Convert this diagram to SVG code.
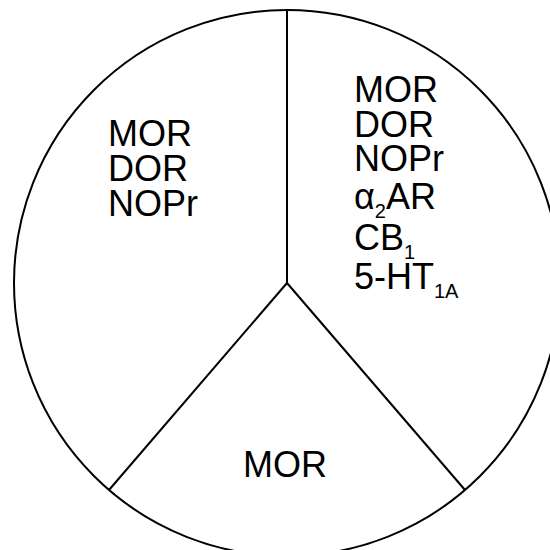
<svg xmlns="http://www.w3.org/2000/svg" width="550" height="550" viewBox="0 0 550 550">
<style>
.t{font-family:"Liberation Sans",Arial,sans-serif;font-size:36px;fill:#000}
.s{font-size:20px}
.ln{stroke:#000;stroke-width:2;fill:none}
</style>
<rect width="550" height="550" fill="#fff"/>
<g id="circle"><circle class="ln" cx="287" cy="283" r="273"/></g>
<g id="connectors">
<line class="ln" x1="287" y1="10" x2="287" y2="283"/>
<line class="ln" x1="287" y1="283" x2="109" y2="490"/>
<line class="ln" x1="287" y1="283" x2="465" y2="490"/>
</g>
<g id="left">
<text class="t" x="108" y="146">MOR</text>
<text class="t" x="108" y="181">DOR</text>
<text class="t" x="108" y="216">NOPr</text>
</g>
<g id="right">
<text class="t" x="354" y="102">MOR</text>
<text class="t" x="354" y="137">DOR</text>
<text class="t" x="354" y="171">NOPr</text>
<text class="t" x="354" y="209">α<tspan class="s" dy="9">2</tspan><tspan dy="-9">AR</tspan></text>
<text class="t" x="354" y="250">CB<tspan class="s" dy="9">1</tspan></text>
<text class="t" x="354" y="289">5-HT<tspan class="s" dy="9">1A</tspan></text>
</g>
<g id="bottom">
<text class="t" x="243" y="477">MOR</text>
</g>
</svg>
